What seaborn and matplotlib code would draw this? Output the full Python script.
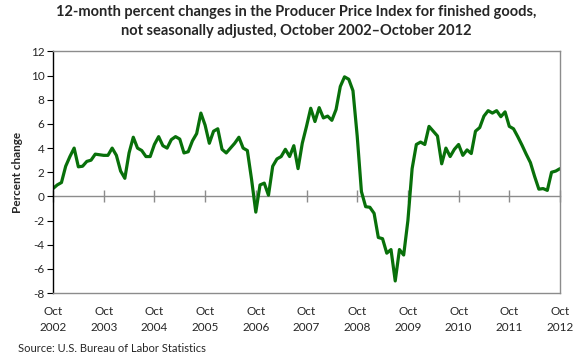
import numpy as np
import pandas as pd
import matplotlib
matplotlib.use('Agg')
import matplotlib.pyplot as plt
import seaborn as sns

# 12-month percent change, PPI finished goods, Oct 2002 - Oct 2012 (monthly)
pct_change = [
    0.65, 0.95, 1.15, 2.5, 3.3, 4.0, 2.45, 2.5, 2.9, 3.0, 3.5, 3.45,   # Oct02-Sep03
    3.4, 3.4, 4.0, 3.4, 2.1, 1.5, 3.6, 4.9, 4.0, 3.8, 3.3, 3.3,        # Oct03-Sep04
    4.3, 4.95, 4.2, 4.0, 4.7, 4.95, 4.75, 3.6, 3.7, 4.6, 5.2, 6.9,     # Oct04-Sep05
    5.9, 4.4, 5.4, 5.6, 3.9, 3.6, 4.0, 4.4, 4.9, 4.0, 3.8, 1.4,        # Oct05-Sep06
    -1.3, 0.95, 1.1, 0.1, 2.5, 3.1, 3.3, 3.9, 3.3, 4.2, 2.3, 4.4,      # Oct06-Sep07
    5.8, 7.3, 6.2, 7.35, 6.5, 6.65, 6.3, 7.2, 9.1, 9.9, 9.7, 8.75,     # Oct07-Sep08
    5.0, 0.4, -0.85, -0.9, -1.4, -3.4, -3.5, -4.7, -4.4, -7.0, -4.4, -4.85,  # Oct08-Sep09
    -2.0, 2.3, 4.3, 4.5, 4.3, 5.8, 5.4, 5.0, 2.7, 4.0, 3.3, 3.9,       # Oct09-Sep10
    4.3, 3.4, 3.85, 3.55, 5.4, 5.7, 6.65, 7.1, 6.9, 7.1, 6.6, 7.0,     # Oct10-Sep11
    5.8, 5.6, 4.95, 4.25, 3.5, 2.8, 1.65, 0.6, 0.65, 0.5, 2.0, 2.1,    # Oct11-Sep12
    2.3,                                                               # Oct12
]
years = list(range(2002, 2013))
tick_labels = [f"Oct\n{y}" for y in years]
y_ticks = list(range(-8, 13, 2))

df = pd.DataFrame({'month': np.arange(len(pct_change)), 'pct': pct_change})
tick_pos = df['month'][::12].tolist()

sns.set_style('white')
plt.rcParams['font.family'] = ['Lato', 'DejaVu Sans']

fig = plt.figure(figsize=(5.8, 3.6), dpi=100)
ax = fig.add_axes([0.0914, 0.186, 0.8741, 0.671])

sns.lineplot(data=df, x='month', y='pct', ax=ax, color='#08700a', linewidth=2.3)

ax.set_xlim(0, len(pct_change) - 1)
ax.set_ylim(-8, 12)
ax.set_yticks(y_ticks)
ax.set_yticklabels([str(v) for v in y_ticks], fontsize=8.5)
ax.tick_params(axis='y', direction='out', length=4, width=0.8, color='black', pad=2, left=True)

ax.set_xticks(tick_pos)
ax.set_xticklabels(tick_labels, fontsize=8.5, linespacing=1.6)
ax.tick_params(axis='x', length=0, pad=9)

for side in ['top', 'right', 'bottom']:
    ax.spines[side].set_color('#8c8c8c')
    ax.spines[side].set_linewidth(1.0)
ax.spines['left'].set_color('black')
ax.spines['left'].set_linewidth(1.0)

# zero line with year ticks
zero_frac = (0 - (-8)) / (12 - (-8))
zax = ax.secondary_xaxis(zero_frac)
zax.set_xticks(tick_pos)
zax.set_xticklabels([])
zax.tick_params(direction='inout', length=8, width=1.0, color='#8c8c8c')
zax.spines['bottom'].set_color('#8c8c8c')
zax.spines['bottom'].set_linewidth(1.0)

ax.set_xlabel('')
ax.set_ylabel('Percent change', fontsize=8.5, fontweight='bold', labelpad=6)

fig.suptitle('12-month percent changes in the Producer Price Index for finished goods,\n'
             'not seasonally adjusted, October 2002\u2013October 2012',
             x=0.51, y=0.985, fontsize=10.5, fontweight='bold', linespacing=1.45)

fig.text(0.031, 0.022, 'Source: U.S. Bureau of Labor Statistics', fontsize=8)

fig.savefig('out.png', dpi=100)
